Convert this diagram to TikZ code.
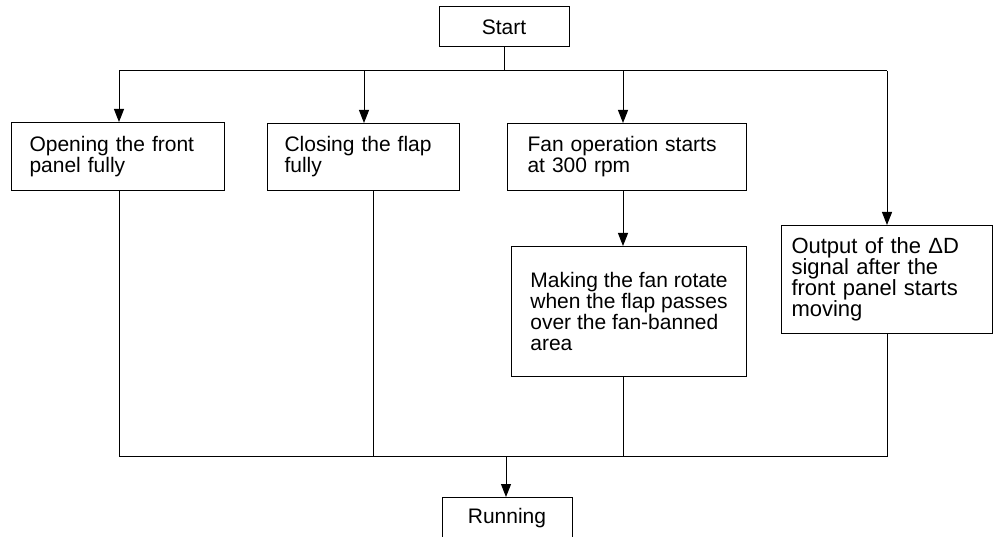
\documentclass[tikz,border=0pt]{standalone}
\usepackage{fontspec}
\setmainfont{Liberation Sans}
\usetikzlibrary{arrows.meta}
\begin{document}
\begin{tikzpicture}[x=1pt,y=-1pt,
  box/.style={draw, line width=1pt, anchor=north west, inner ysep=0pt, align=left,
    font=\fontsize{21}{21}\selectfont},
  conn/.style={line width=1pt},
  arr/.style={line width=1pt,-{Triangle[length=13pt,width=10pt]}}]
\clip (0,0) rectangle (993,537);
\useasboundingbox (0,0) rectangle (993,537);
% boxes
\node[box, anchor=center, minimum width=130pt, minimum height=40pt, inner xsep=0pt, align=center] (start) at (504,27) {Start};
\node[box, text width=177pt, inner xsep=18pt, minimum height=68pt] (b1) at (11,122) {Opening the front\\panel fully};
\node[box, text width=158pt, inner xsep=17pt, minimum height=67pt] (b2) at (267,123) {Closing the flap\\fully};
\node[box, text width=199pt, inner xsep=20pt, minimum height=67pt] (b3) at (507,123) {Fan operation starts\\at 300 rpm};
\node[box, text width=191pt, inner xsep=10pt, minimum height=108pt, font=\fontsize{22}{21}\selectfont] (b4) at (781,225) {Output of the Δ{}D\\signal after the\\front panel starts\\moving};
\node[box, inner xsep=0pt, minimum width=235pt, minimum height=130pt] (b5) at (511,246) {Making the fan rotate\\when the flap passes\\over the fan-banned\\area};
\node[box, anchor=north, minimum width=130pt, inner xsep=0pt, inner ysep=10.7pt, text height=15pt, text depth=5pt, align=center] (run) at (507,497) {Running};
% bus coordinates
\coordinate (tbL) at (119,71);
\coordinate (t2) at (364,71);
\coordinate (t3) at (623,71);
\coordinate (tbR) at (887,71);
\coordinate (bbL) at (119,456.5);
\coordinate (u2) at (373,456.5);
\coordinate (u5) at (623,456.5);
\coordinate (bbR) at (887,456.5);
\coordinate (m) at (506,456.5);
% connectors
\draw[conn] (start.south) -- (start.south |- tbL);
\draw[conn] (tbL) -- (tbR);
\draw[arr] (tbL) -- (tbL |- b1.north);
\draw[arr] (t2) -- (t2 |- b2.north);
\draw[arr] (t3) -- (t3 |- b3.north);
\draw[arr] (tbR) -- (tbR |- b4.north);
\draw[arr] (t3 |- b3.south) -- (t3 |- b5.north);
\draw[conn] (bbL |- b1.south) -- (bbL) -- (bbR) -- (bbR |- b4.south);
\draw[conn] (u2 |- b2.south) -- (u2);
\draw[conn] (u5 |- b5.south) -- (u5);
\draw[arr] (m) -- (m |- run.north);
\end{tikzpicture}
\end{document}
